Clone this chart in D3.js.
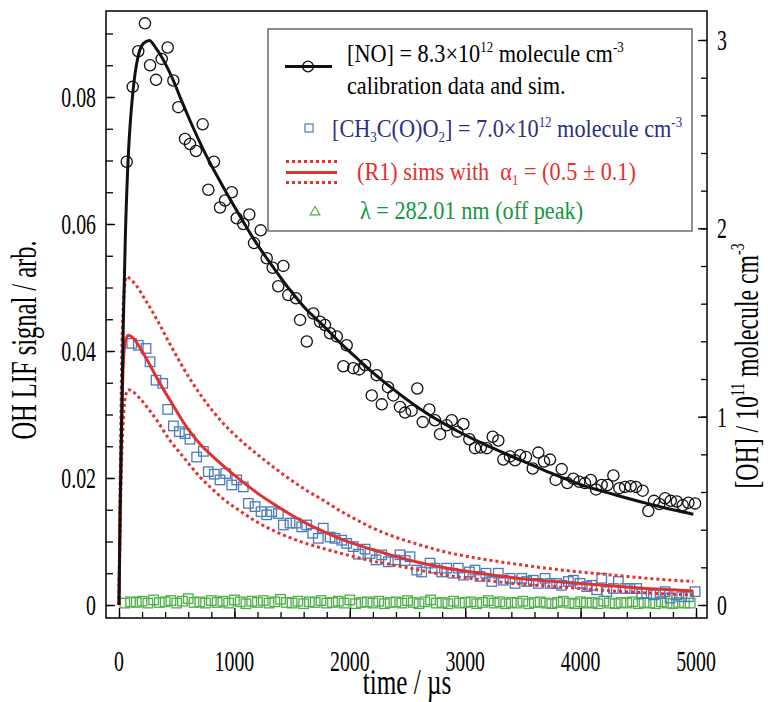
<!DOCTYPE html>
<html><head><meta charset="utf-8">
<script src="https://cdn.jsdelivr.net/npm/d3@7/dist/d3.min.js"></script>
<style>html,body{margin:0;padding:0;background:#fff;}svg{display:block;font-family:"Liberation Serif","Times New Roman",serif;}text{white-space:pre;}</style>
</head><body>
<svg id="c" width="768" height="702"></svg>
<script>
// ---- data (time in µs, signal in arb.) ----
const noData = [[67,0.0698],[119,0.0816],[167,0.0872],[225,0.0916],[269,0.0850],[321,0.0827],[370,0.0860],[422,0.0878],[471,0.0826],[514,0.0784],[572,0.0734],[615,0.0726],[667,0.0715],[725,0.0757],[774,0.0654],[823,0.0698],[875,0.0626],[919,0.0637],[977,0.0650],[1020,0.0609],[1077,0.0600],[1129,0.0615],[1170,0.0570],[1228,0.0590],[1280,0.0546],[1332,0.0531],[1380,0.0502],[1424,0.0534],[1467,0.0488],[1534,0.0483],[1569,0.0449],[1627,0.0415],[1684,0.0459],[1742,0.0446],[1785,0.0441],[1829,0.0428],[1887,0.0423],[1944,0.0376],[1973,0.0409],[2030,0.0373],[2082,0.0371],[2132,0.0378],[2190,0.0330],[2233,0.0362],[2277,0.0316],[2331,0.0343],[2377,0.0330],[2435,0.0312],[2479,0.0303],[2536,0.0306],[2585,0.0341],[2632,0.0288],[2689,0.0308],[2738,0.0291],[2782,0.0269],[2840,0.0283],[2883,0.0291],[2932,0.0273],[2984,0.0285],[3036,0.0261],[3085,0.0247],[3135,0.0248],[3187,0.0247],[3238,0.0265],[3287,0.0259],[3330,0.0229],[3388,0.0234],[3432,0.0228],[3475,0.0236],[3527,0.0233],[3585,0.0215],[3634,0.0240],[3683,0.0226],[3735,0.0229],[3784,0.0197],[3836,0.0214],[3885,0.0192],[3937,0.0199],[3989,0.0194],[4038,0.0192],[4088,0.0197],[4134,0.0182],[4183,0.0189],[4232,0.0189],[4284,0.0204],[4336,0.0184],[4385,0.0186],[4434,0.0187],[4480,0.0186],[4538,0.0180],[4587,0.0148],[4636,0.0164],[4682,0.0159],[4732,0.0168],[4781,0.0164],[4833,0.0163],[4885,0.0157],[4934,0.0161],[4992,0.0160]];

const noSim = [[0,0],[5,0.008],[10,0.015],[18,0.024],[25,0.031],[37,0.044],[55,0.058],[80,0.0705],[100,0.0765],[119,0.0805],[140,0.0838],[167,0.0865],[210,0.0884],[263,0.0889],[320,0.0877],[400,0.0853],[471,0.0826],[540,0.0795],[615,0.0763],[750,0.0710],[904,0.0658],[1050,0.0612],[1193,0.0569],[1340,0.0531],[1482,0.0496],[1620,0.0466],[1770,0.0440],[1910,0.0414],[2060,0.0389],[2200,0.0366],[2348,0.0344],[2600,0.0310],[2840,0.0283],[3130,0.0256],[3417,0.0233],[3700,0.0211],[3995,0.0190],[4290,0.0174],[4573,0.0160],[4800,0.0150],[4977,0.0143]];

const acData = [[110,0.0412],[167,0.0409],[234,0.0404],[269,0.0383],[321,0.0354],[379,0.0349],[422,0.0308],[471,0.0282],[523,0.0273],[572,0.0270],[615,0.0261],[673,0.0233],[731,0.0242],[774,0.0210],[826,0.0206],[875,0.0197],[925,0.0207],[977,0.0189],[1020,0.0197],[1077,0.0186],[1121,0.0160],[1179,0.0155],[1231,0.0147],[1280,0.0142],[1323,0.0147],[1381,0.0144],[1424,0.0126],[1482,0.0129],[1534,0.0129],[1583,0.0123],[1627,0.0126],[1679,0.0113],[1727,0.0105],[1770,0.0121],[1829,0.0107],[1872,0.0105],[1930,0.0102],[1973,0.0097],[2030,0.0092],[2074,0.0080],[2132,0.0088],[2175,0.0081],[2227,0.0071],[2277,0.0079],[2334,0.0068],[2392,0.0071],[2435,0.0079],[2480,0.0070],[2522,0.0076],[2580,0.0055],[2623,0.0052],[2695,0.0066],[2738,0.0058],[2796,0.0052],[2840,0.0058],[2892,0.0050],[2940,0.0058],[2984,0.0047],[3036,0.0052],[3085,0.0055],[3128,0.0045],[3180,0.0050],[3230,0.0037],[3287,0.0050],[3330,0.0039],[3388,0.0042],[3432,0.0034],[3490,0.0042],[3533,0.0037],[3590,0.0039],[3634,0.0034],[3692,0.0042],[3735,0.0034],[3793,0.0034],[3836,0.0031],[3894,0.0037],[3937,0.0039],[3995,0.0034],[4053,0.0029],[4096,0.0031],[4140,0.0024],[4183,0.0042],[4227,0.0021],[4284,0.0026],[4327,0.0037],[4385,0.0026],[4428,0.0026],[4486,0.0026],[4530,0.0018],[4573,0.0018],[4631,0.0016],[4688,0.0018],[4732,0.0021],[4775,0.0011],[4833,0.0016],[4876,0.0013],[4934,0.0013],[4992,0.0021]];

const r1Sim = [[0,0],[8,0.012],[15,0.0197],[25,0.030],[37,0.038],[55,0.0415],[80,0.0425],[120,0.0421],[182,0.0405],[250,0.0384],[327,0.0358],[450,0.0320],[540,0.0293],[615,0.0273],[700,0.0254],[800,0.0236],[904,0.0219],[1050,0.0197],[1193,0.0177],[1340,0.0159],[1482,0.0143],[1620,0.0129],[1770,0.0116],[1910,0.0105],[2060,0.0095],[2200,0.0087],[2348,0.0079],[2600,0.0067],[2840,0.0058],[3130,0.0050],[3417,0.0043],[3700,0.0038],[3995,0.0034],[4290,0.0030],[4573,0.0026],[4800,0.0024],[4977,0.0022]];

const r1Upper = [[0,0],[8,0.016],[15,0.027],[25,0.040],[37,0.047],[50,0.0505],[67,0.0517],[100,0.0513],[150,0.0503],[220,0.0483],[327,0.0450],[450,0.0408],[615,0.0356],[750,0.0320],[904,0.0286],[1050,0.0260],[1193,0.0238],[1340,0.0217],[1482,0.0198],[1620,0.0181],[1770,0.0165],[1910,0.0149],[2060,0.0134],[2200,0.0121],[2348,0.0110],[2600,0.0095],[2840,0.0083],[3130,0.0073],[3417,0.0065],[3700,0.0058],[3995,0.0052],[4290,0.0047],[4573,0.0042],[4800,0.0039],[4977,0.0037]];

const r1Lower = [[0,0],[8,0.010],[15,0.017],[25,0.024],[37,0.029],[55,0.0328],[80,0.0339],[120,0.0336],[182,0.0325],[250,0.0310],[327,0.0291],[450,0.0257],[540,0.0237],[615,0.0220],[700,0.0202],[800,0.0184],[904,0.0167],[1050,0.0148],[1193,0.0131],[1340,0.0117],[1482,0.0106],[1620,0.0097],[1770,0.0089],[1910,0.0082],[2060,0.0075],[2200,0.0069],[2348,0.0064],[2600,0.0055],[2840,0.0047],[3130,0.0040],[3417,0.0034],[3700,0.0030],[3995,0.0026],[4290,0.0022],[4573,0.0019],[4800,0.0017],[4977,0.0016]];

const offTimes = [50,100,150,200,250,300,350,400,450,500,550,600,650,700,750,800,850,900,950,1000,1050,1100,1150,1200,1250,1300,1350,1400,1450,1500,1550,1600,1650,1700,1750,1800,1850,1900,1950,2000,2050,2100,2150,2200,2250,2300,2350,2400,2450,2500,2550,2600,2650,2700,2750,2800,2850,2900,2950,3000,3050,3100,3150,3200,3250,3300,3350,3400,3450,3500,3550,3600,3650,3700,3750,3800,3850,3900,3950,4000,4050,4100,4150,4200,4250,4300,4350,4400,4450,4500,4550,4600,4650,4700,4750,4800,4850,4900,4950];
const offValues = [0.0003,0.0005,0.0004,0.0006,0.0003,0.0008,0.0004,0.0005,0.0007,0.0003,0.0006,0.0010,0.0004,0.0005,0.0003,0.0007,0.0004,0.0006,0.0003,0.0008,0.0005,0.0002,0.0006,0.0004,0.0007,0.0003,0.0005,0.0009,0.0004,0.0003,0.0006,0.0002,0.0005,0.0004,0.0007,0.0003,0.0004,0.0006,0.0003,0.0008,0.0002,0.0004,0.0005,0.0003,0.0006,0.0002,0.0004,0.0005,0.0003,0.0007,0.0004,0.0002,0.0005,0.0008,0.0003,0.0004,0.0002,0.0006,0.0003,0.0004,0.0005,0.0002,0.0004,0.0007,0.0003,0.0005,0.0002,0.0004,0.0003,0.0006,0.0002,0.0004,0.0005,0.0003,0.0002,0.0004,0.0006,0.0003,0.0002,0.0005,0.0003,0.0004,0.0002,0.0006,0.0003,0.0002,0.0004,0.0003,0.0005,0.0002,0.0004,0.0003,0.0002,0.0005,0.0003,0.0002,0.0004,0.0003,0.0003];

const xTicksMajor = [0,1000,2000,3000,4000,5000];
const yTicksMajor = [0,0.02,0.04,0.06,0.08];
const yTickLabels = ["0","0.02","0.04","0.06","0.08"];
const y2TicksMajor = [0,1,2,3];

// ---- layout ----
const frame = {l:106, r:707, t:11, b:618};
const svg = d3.select("#c");
const x = d3.scaleLinear().domain([0,5000]).range([119,696]);
const y = d3.scaleLinear().domain([0,0.08]).range([605,97]);
const y2 = d3.scaleLinear().domain([0,3]).range([605,40]);

const C = {black:"#111", red:"#e3312d", blue:"#4a7bbf", green:"#4db148",
           blueTxt:"#2b2e86", redTxt:"#e3312d", greenTxt:"#16963f", box:"#6a6a6a"};

function stext(g, px, py, F, k, anchor, parts, color, rot){
  const t = g.append("text")
    .attr("transform", `translate(${px},${py})` + (rot? " rotate(-90)":"") + ` scale(${k},1)`)
    .attr("font-size", F).attr("text-anchor", anchor).attr("fill", color||"#000");
  let shift = 0;
  parts.forEach(p=>{
    const s = typeof p === "string" ? [p,""] : p;
    const ts = t.append("tspan").text(s[0]);
    let target = 0;
    if (s[1]==="sup"){ ts.attr("font-size", F*0.58); target = -0.42*F; }
    else if (s[1]==="sub"){ ts.attr("font-size", F*0.58); target = 0.2*F; }
    if (target !== shift){ ts.attr("dy", target-shift); shift = target; }
  });
  return t;
}

// clip
svg.append("defs").append("clipPath").attr("id","clip").append("rect")
  .attr("x",frame.l).attr("y",frame.t).attr("width",frame.r-frame.l).attr("height",frame.b-frame.t);
const plot = svg.append("g").attr("clip-path","url(#clip)");

// ticks via axes (inward)
function tickAxis(axis, tx, ty){
  const g = svg.append("g").attr("transform",`translate(${tx},${ty})`).call(axis);
  g.select(".domain").remove();
  g.selectAll("line").attr("stroke","#000").attr("stroke-width",1.3);
  g.selectAll("text").remove();
}
tickAxis(d3.axisBottom(x).tickValues(d3.range(0,5001,200)).tickSize(-6).tickFormat(""), 0, frame.b);
tickAxis(d3.axisBottom(x).tickValues(xTicksMajor).tickSize(-10).tickFormat(""), 0, frame.b);
tickAxis(d3.axisLeft(y).tickValues(d3.range(0,0.0901,0.005)).tickSize(-7).tickFormat(""), frame.l, 0);
tickAxis(d3.axisLeft(y).tickValues(yTicksMajor).tickSize(-9).tickFormat(""), frame.l, 0);
tickAxis(d3.axisRight(y2).tickValues(d3.range(0,3.01,0.2)).tickSize(-6).tickFormat(""), frame.r, 0);
tickAxis(d3.axisRight(y2).tickValues(y2TicksMajor).tickSize(-9).tickFormat(""), frame.r, 0);

// lines
const line = d3.line().x(d=>x(d[0])).y(d=>y(d[1])).curve(d3.curveMonotoneX);

// markers
const sq = 9.5;
plot.selectAll("rect.off").data(offTimes.map((t,i)=>[t,offValues[i]])).join("rect")
  .attr("x",d=>x(d[0])-sq/2).attr("y",d=>y(d[1])-sq/2).attr("width",sq).attr("height",sq)
  .attr("fill","none").attr("stroke",C.green).attr("stroke-width",1.3);
plot.selectAll("rect.ac").data(acData).join("rect")
  .attr("x",d=>x(d[0])-sq/2).attr("y",d=>y(d[1])-sq/2).attr("width",sq).attr("height",sq)
  .attr("fill","none").attr("stroke",C.blue).attr("stroke-width",1.3);
plot.selectAll("circle.no").data(noData).join("circle")
  .attr("cx",d=>x(d[0])).attr("cy",d=>y(d[1])).attr("r",5.6)
  .attr("fill","none").attr("stroke",C.black).attr("stroke-width",1.3);

[r1Upper, r1Lower].forEach(d=>{
  plot.append("path").attr("d",line(d)).attr("fill","none").attr("stroke",C.red)
    .attr("stroke-width",3).attr("stroke-dasharray","3,3");
});
plot.append("path").attr("d",line(r1Sim)).attr("fill","none").attr("stroke",C.red).attr("stroke-width",3);
plot.append("path").attr("d",line(noSim)).attr("fill","none").attr("stroke",C.black).attr("stroke-width",3);

// frame
svg.append("rect").attr("x",frame.l).attr("y",frame.t).attr("width",frame.r-frame.l).attr("height",frame.b-frame.t)
  .attr("fill","none").attr("stroke","#000").attr("stroke-width",1.5);

// tick labels
const TF = 30, TK = 0.66;
yTicksMajor.forEach((v,i)=> stext(svg, 96, y(v)+10, TF, TK, "end", [yTickLabels[i]]));
y2TicksMajor.forEach(v=> stext(svg, 717, y2(v)+10, TF, TK, "start", [String(v)]));
xTicksMajor.forEach(v=> stext(svg, x(v), 671, TF, TK, "middle", [String(v)]));

// axis titles
stext(svg, 407, 694, 36, 0.7, "middle", ["time / µs"]);
stext(svg, 36, 340, 35, 0.7, "middle", ["OH LIF signal / arb."], "#000", true);
stext(svg, 758, 366, 33, 0.72, "middle", ["[OH] / 10",["11","sup"]," molecule cm",["-3","sup"]], "#000", true);

// legend
const lg = svg.append("g");
lg.append("rect").attr("x",268).attr("y",29).attr("width",424).attr("height",202)
  .attr("fill","#fff").attr("stroke",C.box).attr("stroke-width",1.5);
const LF = 25, LK = 0.89;
lg.append("line").attr("x1",285).attr("x2",332).attr("y1",66.5).attr("y2",66.5).attr("stroke",C.black).attr("stroke-width",3);
lg.append("circle").attr("cx",308).attr("cy",66.5).attr("r",5.3).attr("fill","none").attr("stroke",C.black).attr("stroke-width",1.3);
stext(lg, 347, 62, LF, LK, "start", ["[NO] = 8.3×10",["12","sup"]," molecule cm",["-3","sup"]]);
stext(lg, 347, 94, LF, LK, "start", ["calibration data and sim."]);
lg.append("rect").attr("x",305).attr("y",124).attr("width",8).attr("height",8).attr("fill","none").attr("stroke",C.blue).attr("stroke-width",1.2);
stext(lg, 332, 137, LF, LK, "start", ["[CH",["3","sub"],"C(O)O",["2","sub"],"] = 7.0×10",["12","sup"]," molecule cm",["-3","sup"]], C.blueTxt);
[[161.5,"3,3"],[172.5,null],[182.5,"3,3"]].forEach(a=>{
  const l = lg.append("line").attr("x1",286).attr("x2",337).attr("y1",a[0]).attr("y2",a[0]).attr("stroke",C.red).attr("stroke-width",3);
  if (a[1]) l.attr("stroke-dasharray",a[1]);
});
stext(lg, 357, 180, LF, LK, "start", ["(R1) sims with  α",["1","sub"]," = (0.5 ± 0.1)"], C.redTxt);
lg.append("path").attr("d", d3.symbol(d3.symbolTriangle, 40)()).attr("transform","translate(315,212)")
  .attr("fill","none").attr("stroke",C.green).attr("stroke-width",1.2);
stext(lg, 360, 219, LF, LK, "start", ["λ = 282.01 nm (off peak)"], C.greenTxt);
</script>
</body></html>
